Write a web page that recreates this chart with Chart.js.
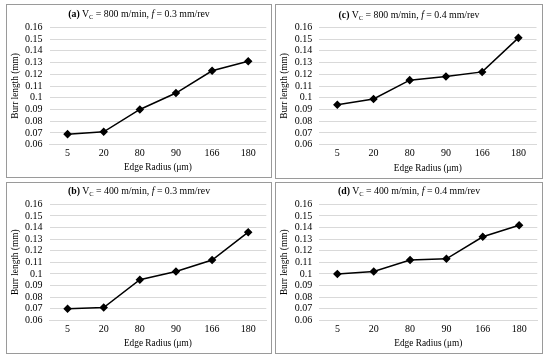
<!DOCTYPE html>
<html>
<head>
<meta charset="utf-8">
<script src="https://cdn.jsdelivr.net/npm/chart.js@4.4.1/dist/chart.umd.min.js"></script>
<style>
  body { margin: 0; background: #fff; width: 550px; height: 362px; position: relative; overflow: hidden; }
  .panel { position: absolute; border: 1px solid #9a9a9a; box-sizing: border-box; background: #fff; }
  .panel canvas { position: absolute; left: 0; top: 0; }
  .ttl { position: absolute; left: 0; right: 0; text-align: center; font-family: "Liberation Serif", serif; font-size: 9.8px; color: #000; white-space: nowrap; line-height: 12px; }
  .ttl sub { font-size: 6.5px; vertical-align: -2px; line-height: 0; }
</style>
</head>
<body>
<script>
// categories and series
const edgeRadius = ['5', '20', '80', '90', '166', '180'];
const burrA = [0.069, 0.071, 0.090, 0.104, 0.123, 0.131]; // 800 m/min, f = 0.3
const burrB = [0.070, 0.071, 0.095, 0.102, 0.112, 0.136]; // 400 m/min, f = 0.3
const burrC = [0.094, 0.099, 0.115, 0.118, 0.122, 0.151]; // 800 m/min, f = 0.4
const burrD = [0.100, 0.102, 0.112, 0.113, 0.132, 0.142]; // 400 m/min, f = 0.4
const yMin = 0.06, yMax = 0.16, yStep = 0.01;

const panels = [
  { tag: '(a)', vc: 800, f: 0.3, data: burrA, box: [6, 4, 266, 174], area: [49.5, 27.3, 267.5, 144.7], ty: 3 },
  { tag: '(c)', vc: 800, f: 0.4, data: burrC, box: [275, 4, 268, 175], area: [319.2, 27.3, 536.5, 144.7], ty: 4 },
  { tag: '(b)', vc: 400, f: 0.3, data: burrB, box: [6, 182, 266, 172], area: [49.5, 204.3, 267.5, 320.3], ty: 2 },
  { tag: '(d)', vc: 400, f: 0.4, data: burrD, box: [275, 182, 268, 172], area: [319.2, 204.3, 537.5, 320.3], ty: 2 }
];

const tickFont = { family: '"Liberation Serif", "Times New Roman", serif', size: 10 };
const axisFont = { family: '"Liberation Serif", "Times New Roman", serif', size: 9.3 };

panels.forEach(p => {
  const [bx, by, bw, bh] = p.box;
  const div = document.createElement('div');
  div.className = 'panel';
  Object.assign(div.style, { left: bx + 'px', top: by + 'px', width: bw + 'px', height: bh + 'px' });
  document.body.appendChild(div);

  const cw = bw - 2, ch = bh - 2;
  const cx = bx + 1, cy = by + 1;
  const canvas = document.createElement('canvas');
  canvas.style.width = cw + 'px';
  canvas.style.height = ch + 'px';
  div.appendChild(canvas);

  const ttl = document.createElement('div');
  ttl.className = 'ttl';
  ttl.style.top = p.ty + 'px';
  ttl.innerHTML = '<b>' + p.tag + '</b> V<sub>C</sub> = ' + p.vc + ' m/min, <i>f</i> = ' + p.f + ' mm/rev';
  div.appendChild(ttl);

  const [l, t, r, b] = p.area;
  new Chart(canvas, {
    type: 'line',
    data: {
      labels: edgeRadius,
      datasets: [{
        data: p.data,
        borderColor: '#000',
        backgroundColor: '#000',
        borderWidth: 1.5,
        pointStyle: 'rectRot',
        pointRadius: 3.2,
        pointHoverRadius: 3.2,
        tension: 0
      }]
    },
    options: {
      responsive: false,
      animation: false,
      devicePixelRatio: 1,
      layout: { padding: { left: 0, top: t - cy, right: (cx + cw) - r, bottom: 0 } },
      plugins: { legend: { display: false }, tooltip: { enabled: false } },
      scales: {
        x: {
          offset: true,
          grid: { display: false, drawTicks: false },
          border: { display: true, color: '#d9d9d9' },
          ticks: { font: tickFont, color: '#000', padding: 3, maxRotation: 0, autoSkip: false },
          title: { display: true, text: 'Edge Radius (μm)', font: axisFont, color: '#000', padding: { top: 0, bottom: 4 } },
          afterFit: s => { s.height = (cy + ch) - b; }
        },
        y: {
          min: yMin,
          max: yMax,
          grid: { color: '#d9d9d9', drawTicks: false },
          border: { display: false },
          ticks: { stepSize: yStep, autoSkip: false, font: tickFont, color: '#000', padding: 7, callback: v => String(+v.toFixed(2)) },
          title: { display: true, text: 'Burr length (mm)', font: axisFont, color: '#000', padding: { top: 3, bottom: 0 } },
          afterFit: s => { s.width = l - cx; }
        }
      }
    }
  });
});
</script>
</body>
</html>
